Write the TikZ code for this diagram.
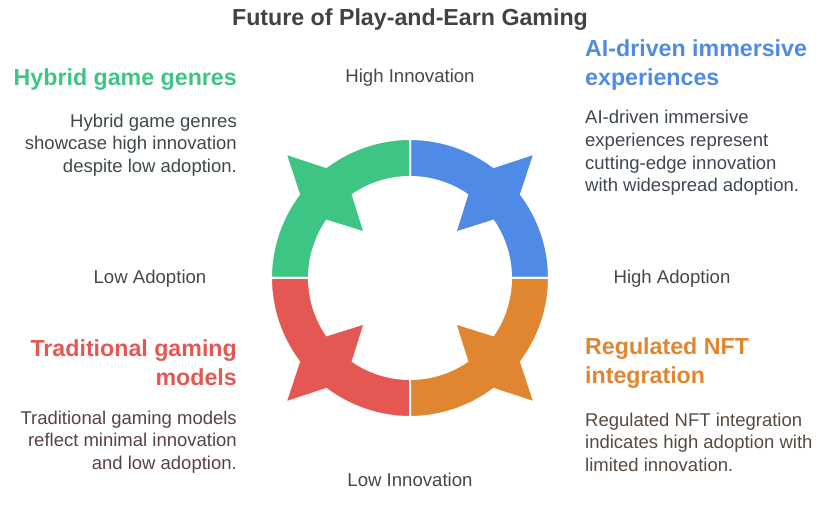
\documentclass[tikz,border=0pt]{standalone}
\usepackage{fontspec}
\setmainfont{Liberation Sans}

\definecolor{aiblue}{HTML}{4F8BE6}
\definecolor{hybridgreen}{HTML}{3EC584}
\definecolor{tradred}{HTML}{E55753}
\definecolor{nftorange}{HTML}{E08631}
\definecolor{axisgray}{HTML}{474747}
\definecolor{titlegray}{HTML}{424242}
\definecolor{greentext}{HTML}{3E4B45}
\definecolor{bluetext}{HTML}{3F4654}
\definecolor{redtext}{HTML}{574343}
\definecolor{orangetext}{HTML}{574A40}

\begin{document}
\begin{tikzpicture}
	[x=1pt, y=1pt,
	every node/.style={inner sep=0pt},
	heading/.style={font=\fontsize{23.2}{29}\selectfont\bfseries},
	body/.style={font=\fontsize{18.5}{22.6}\selectfont},
	axislabel/.style={font=\fontsize{18.6}{21}\selectfont, text=axisgray},
	piece/.style={draw=white, line width=2pt}]
	\useasboundingbox (0,0) rectangle (838,510);
	% ring of four quadrants
	\begin{scope}[shift={(410,232)}]
	\foreach \s/\col in {0/aiblue, 90/hybridgreen, 180/tradred, 270/nftorange}{
		\pgfmathsetmacro\m{\s+45}
		\pgfmathsetmacro\oa{\m-8}
		\pgfmathsetmacro\ob{\m+8}
		\pgfmathsetmacro\ia{\m-10.5}
		\pgfmathsetmacro\ib{\m+10.5}
		\pgfmathsetmacro\e{\s+90}
		\filldraw[piece, fill=\col] (\s:139) arc[start angle=\s, end angle=\oa, radius=139]
			-- (\m:176) -- (\ob:139) arc[start angle=\ob, end angle=\e, radius=139]
			-- (\e:101) arc[start angle=\e, end angle=\ib, radius=101]
			-- (\m:64) -- (\ia:101) arc[start angle=\ia, end angle=\s, radius=101] -- cycle;
	}
	\end{scope}
	% title and axes
	\node (title) at (410,490) {\fontsize{23.2}{27}\selectfont\bfseries\color{titlegray}Future of Play-and-Earn Gaming};
	\node (hiinno) [axislabel] at (410,432) {High Innovation};
	\node (loinno) [axislabel] at (410,30) {Low Innovation};
	\node (loadop) [axislabel] at (150,231) {Low Adoption};
	\node (hiadop) [axislabel] at (672,231) {High Adoption};
	% quadrant texts
	\node (hybrid) [heading, text=hybridgreen, anchor=east, align=right] at (237,430) {Hybrid game genres};
	\node (hybriddesc) [body, text=greentext, anchor=east, align=right] at (237,365)
		{Hybrid game genres\\showcase high innovation\\despite low adoption.};
	\node (aidriven) [heading, text=aiblue, anchor=west, align=left] at (585,445) {AI-driven immersive\\experiences};
	\node (aidesc) [body, text=bluetext, anchor=west, align=left] at (585,357)
		{AI-driven immersive\\experiences represent\\cutting-edge innovation\\with widespread adoption.};
	\node (trad) [heading, text=tradred, anchor=east, align=right] at (237,147) {Traditional gaming\\models};
	\node (traddesc) [body, text=redtext, anchor=east, align=right] at (237,68)
		{Traditional gaming models\\reflect minimal innovation\\and low adoption.};
	\node (nft) [heading, text=nftorange, anchor=west, align=left] at (585,147) {Regulated NFT\\integration};
	\node (nftdesc) [body, text=orangetext, anchor=west, align=left] at (585,68)
		{Regulated NFT integration\\indicates high adoption with\\limited innovation.};
\end{tikzpicture}
\end{document}
